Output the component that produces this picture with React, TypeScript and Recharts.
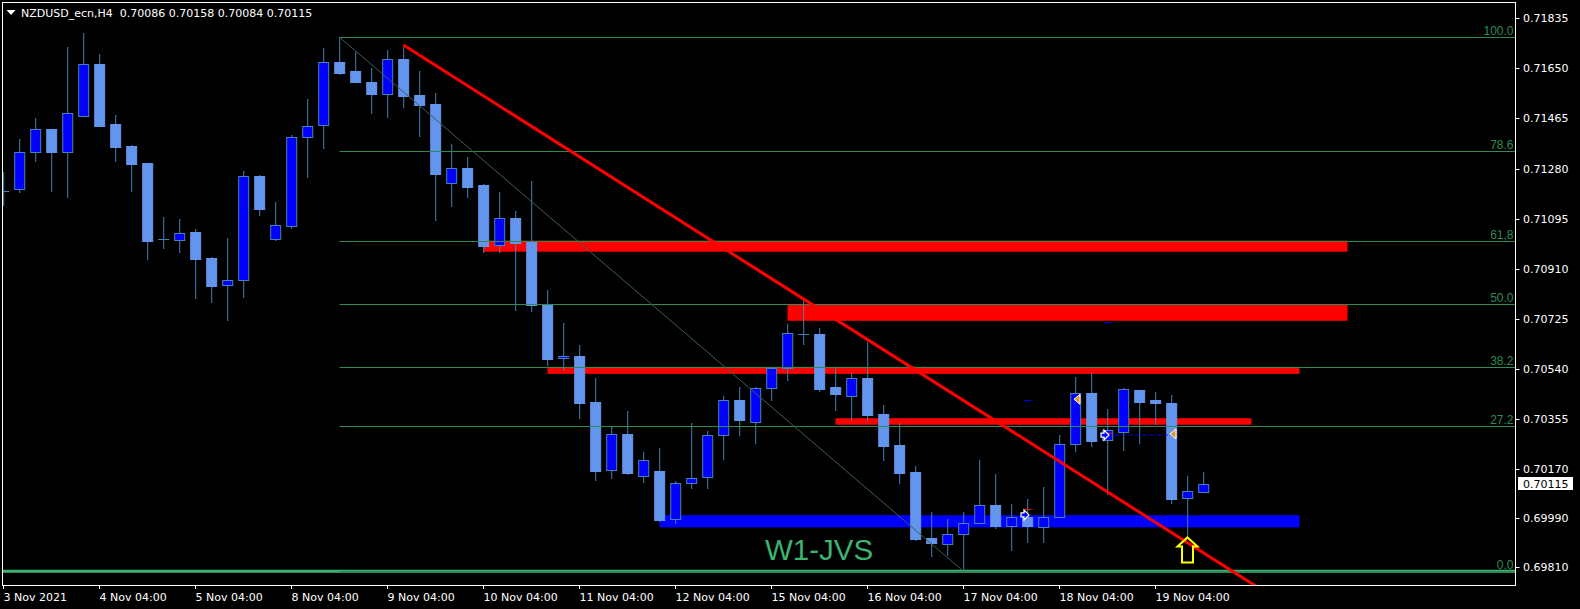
// @ts-nocheck
import React from "react";
import { ComposedChart, Bar, XAxis, YAxis, ReferenceLine, ReferenceArea, ReferenceDot } from "recharts";

// NZDUSD_ecn H4, one entry per bar (3 Nov 04:00 .. 19 Nov 16:00)
const opens = [
  0.71198, 0.71203, 0.71340, 0.71425, 0.71342, 0.71473, 0.71666, 0.71445, 0.71363, 0.71301,
  0.71019, 0.71015, 0.71046, 0.70951, 0.70849, 0.70867, 0.71253, 0.71021, 0.71069, 0.71395,
  0.71440, 0.71673, 0.71640, 0.71599, 0.71556, 0.71683, 0.71551, 0.71517, 0.71226, 0.71281,
  0.71219, 0.70997, 0.71096, 0.71009, 0.70775, 0.70579, 0.70588, 0.70418, 0.70166, 0.70299,
  0.70144, 0.70163, 0.69985, 0.70118, 0.70140, 0.70295, 0.70424, 0.70343, 0.70469, 0.70542,
  0.70670, 0.70669, 0.70473, 0.70441, 0.70507, 0.70374, 0.70259, 0.70160, 0.69916, 0.69893,
  0.69930, 0.69970, 0.70037, 0.69961, 0.69993, 0.69958, 0.69992, 0.70262, 0.70450, 0.70277,
  0.70308, 0.70462, 0.70424, 0.70414, 0.70062, 0.70086,
];
const highs = [
  0.71267, 0.71389, 0.71467, 0.71426, 0.71729, 0.71781, 0.71703, 0.71478, 0.71367, 0.71302,
  0.71101, 0.71094, 0.71056, 0.70953, 0.71024, 0.71271, 0.71257, 0.71157, 0.71404, 0.71537,
  0.71724, 0.71765, 0.71712, 0.71651, 0.71718, 0.71730, 0.71640, 0.71558, 0.71371, 0.71323,
  0.71224, 0.71193, 0.71123, 0.71234, 0.70832, 0.70710, 0.70628, 0.70506, 0.70329, 0.70385,
  0.70233, 0.70248, 0.70126, 0.70340, 0.70311, 0.70440, 0.70473, 0.70472, 0.70548, 0.70706,
  0.70791, 0.70690, 0.70546, 0.70525, 0.70640, 0.70407, 0.70340, 0.70182, 0.70011, 0.69986,
  0.70011, 0.70204, 0.70152, 0.70041, 0.70060, 0.70104, 0.70295, 0.70510, 0.70524, 0.70391,
  0.70471, 0.70463, 0.70454, 0.70444, 0.70145, 0.70158,
];
const lows = [
  0.71143, 0.71191, 0.71304, 0.71195, 0.71172, 0.71472, 0.71437, 0.71305, 0.71195, 0.70943,
  0.70983, 0.70969, 0.70799, 0.70785, 0.70718, 0.70803, 0.71106, 0.71014, 0.71058, 0.71246,
  0.71353, 0.71627, 0.71597, 0.71482, 0.71468, 0.71505, 0.71398, 0.71087, 0.71139, 0.71172,
  0.70969, 0.70969, 0.70755, 0.70751, 0.70551, 0.70534, 0.70356, 0.70127, 0.70133, 0.70150,
  0.70120, 0.69976, 0.69966, 0.70098, 0.70098, 0.70205, 0.70294, 0.70264, 0.70423, 0.70496,
  0.70630, 0.70456, 0.70386, 0.70349, 0.70349, 0.70201, 0.70116, 0.69906, 0.69847, 0.69849,
  0.69793, 0.69969, 0.69948, 0.69869, 0.69898, 0.69898, 0.69991, 0.70233, 0.70253, 0.70076,
  0.70238, 0.70263, 0.70333, 0.70041, 0.69921, 0.70084,
];
const closes = [
  0.71198, 0.71340, 0.71425, 0.71342, 0.71484, 0.71665, 0.71438, 0.71361, 0.71298, 0.71014,
  0.71019, 0.71041, 0.70947, 0.70847, 0.70867, 0.71251, 0.71132, 0.71070, 0.71395, 0.71438,
  0.71672, 0.71634, 0.71601, 0.71556, 0.71683, 0.71549, 0.71516, 0.71261, 0.71281, 0.71213,
  0.70995, 0.71096, 0.71006, 0.70775, 0.70578, 0.70588, 0.70415, 0.70164, 0.70299, 0.70157,
  0.70203, 0.69983, 0.70118, 0.70136, 0.70295, 0.70424, 0.70353, 0.70469, 0.70542, 0.70672,
  0.70669, 0.70467, 0.70449, 0.70507, 0.70371, 0.70257, 0.70157, 0.69913, 0.69898, 0.69930,
  0.69970, 0.70037, 0.69960, 0.69993, 0.69961, 0.69993, 0.70262, 0.70450, 0.70274, 0.70315,
  0.70465, 0.70419, 0.70415, 0.70061, 0.70088, 0.70115,
];

const dateIdx = [0, 6, 12, 18, 24, 30, 36, 42, 48, 54, 60, 66, 72];
const dateLabels = [
  "3 Nov 2021", "4 Nov 04:00", "5 Nov 04:00", "8 Nov 04:00", "9 Nov 04:00", "10 Nov 04:00",
  "11 Nov 04:00", "12 Nov 04:00", "15 Nov 04:00", "16 Nov 04:00", "17 Nov 04:00",
  "18 Nov 04:00", "19 Nov 04:00",
];
const priceTicks = [0.71835, 0.7165, 0.71465, 0.7128, 0.71095, 0.7091, 0.70725, 0.7054, 0.70355, 0.7017, 0.6999, 0.6981];

// fibonacci retracement from bar 21 high to bar 60 low
const fibFrom = 21;
const fibTo = 60;
const fibHigh = 0.71765;
const fibLow = 0.69793;
const fibLevels = [100, 78.6, 61.8, 50, 38.2, 27.2, 0];
const fibTexts = ["100.0", "78.6", "61,8", "50.0", "38.2", "27.2", "0.0"];

// supply / demand boxes
const zoneFrom = [30, 49, 34, 52, 41];
const zoneTo = [84, 84, 81, 78, 81];
const zoneTop = [0.71014, 0.70780, 0.70548, 0.70358, 0.70000];
const zoneBottom = [0.70973, 0.70718, 0.70522, 0.70334, 0.69955];
const zoneColor = ["#ff0000", "#ff0000", "#ff0000", "#ff0000", "#0000ff"];

// red trend line
const trendFrom = [25, 0.71736];
const trendTo = [79, 0.69711];

// trade markers
const orderMarks = [[67, 0.70428], [73, 0.70300]];
const arrowMarks = [[64, 0.70001], [69, 0.70296]];
const redTicks = [[64, 0.70023], [69, 0.70304]];
const blueTicks = [[64, 0.70425], [69, 0.70713]];
const dashFrom = 69;
const dashTo = 73;
const dashPrice = 0.70296;
const signalBar = 74;
const signalPrice = 0.69918;
const textBar = 48;
const textPrice = 0.69836;

const SLOTS = 95;
const W = 1580;
const H = 609;
const FONT = "'DejaVu Sans', Verdana, sans-serif";
const BULL = "#0000ff";
const BEAR = "#6495ed";
const WICK = "#4682b4";

const rows = Array.from({ length: SLOTS }, (_, t) =>
  t < opens.length
    ? { t, o: opens[t], h: highs[t], l: lows[t], c: closes[t], range: [lows[t], highs[t]] }
    : { t, range: null }
);
const last = opens.length - 1;
const title = `NZDUSD_ecn,H4  ${opens[last].toFixed(5)} ${highs[last].toFixed(5)} ${lows[last].toFixed(5)} ${closes[last].toFixed(5)}`;

function Candle(props: any) {
  const { x, y, width, height, payload } = props;
  if (!payload || payload.o == null) return null;
  const { o, h, l, c } = payload;
  const top = Math.min(y, y + height);
  const k = Math.abs(height) / (h - l);
  const py = (p: number) => top + (h - p) * k;
  const cx = x + width / 2;
  const bTop = Math.round(Math.min(py(o), py(c)));
  const bBot = Math.round(Math.max(py(o), py(c)));
  const up = c > o;
  const wick = <line x1={cx} x2={cx} y1={Math.round(py(h))} y2={Math.round(py(l))} stroke={WICK} />;
  if (bBot - bTop < 1) {
    return (
      <g>
        {wick}
        <line x1={cx - 5.5} x2={cx + 5.5} y1={bTop + 0.5} y2={bTop + 0.5} stroke={WICK} />
      </g>
    );
  }
  return (
    <g>
      {wick}
      <rect x={cx - 5} y={bTop + 0.5} width={10} height={bBot - bTop} fill={up ? BULL : BEAR} stroke={up ? WICK : BEAR} />
    </g>
  );
}

const zoneShape = (span: number) => (p: any) => {
  const band = p.width / (span + 1);
  return <rect x={p.x + band / 2} y={p.y} width={p.width - band} height={p.height} fill={p.fill} />;
};

const fibShape = (text: string) => (p: any) => {
  const band = (p.x2 - p.x1) / (SLOTS - 1 - fibFrom);
  const xe = p.x2 + band / 2;
  const yy = Math.round(p.y1) + 0.5;
  return (
    <g>
      <line x1={p.x1} y1={yy} x2={xe} y2={yy} stroke="#2e8b57" strokeWidth={1} />
      <text x={xe - 2} y={yy - 2.5} textAnchor="end" fill="#2e8b57" fontSize={12} fontFamily="'Liberation Sans', Arial, sans-serif">
        {text}
      </text>
    </g>
  );
};

function PriceTick({ x, y, payload }: any) {
  const yy = Math.round(y) + 0.5;
  return (
    <g>
      <line x1={x} x2={x + 4} y1={yy} y2={yy} stroke="#fff" />
      <text x={x + 7.5} y={y + 4} fill="#fff" fontSize={11} fontFamily={FONT}>
        {payload.value.toFixed(5)}
      </text>
    </g>
  );
}

function DateTick({ x, y, payload }: any) {
  const k = dateIdx.indexOf(payload.value);
  if (k < 0) return null;
  return (
    <g>
      <line x1={x} x2={x} y1={y} y2={y + 4} stroke="#fff" />
      <text x={x} y={y + 16} fill="#fff" fontSize={11} fontFamily={FONT}>
        {dateLabels[k]}
      </text>
    </g>
  );
}

const orderShape = ({ cx, cy }: any) => (
  <polygon points={`${cx - 1.5},${cy} ${cx + 4.5},${cy - 5} ${cx + 4.5},${cy + 5}`} fill="#d99a2b" stroke="#fff" strokeWidth={1} />
);
const arrowShape = ({ cx, cy }: any) => {
  const a = cx - 6.5;
  return (
    <polygon
      points={`${a},${cy - 2} ${a + 3},${cy - 2} ${a + 3},${cy - 5} ${a + 8},${cy} ${a + 3},${cy + 5} ${a + 3},${cy + 2} ${a},${cy + 2}`}
      fill="#0000ff"
      stroke="#fff"
      strokeWidth={1.2}
    />
  );
};
const tickShape = (color: string) => ({ cx, cy }: any) => (
  <line x1={cx - 3} x2={cx + 4} y1={Math.round(cy) + 0.5} y2={Math.round(cy) + 0.5} stroke={color} />
);
const signalShape = ({ cx, cy }: any) => (
  <polygon
    points={`${cx},${cy} ${cx + 10},${cy + 9} ${cx + 5.5},${cy + 9} ${cx + 5.5},${cy + 25} ${cx - 5.5},${cy + 25} ${cx - 5.5},${cy + 9} ${cx - 10},${cy + 9}`}
    fill="none"
    stroke="#ffff00"
    strokeWidth={2}
  />
);
const textShape = ({ cx, cy }: any) => (
  <text x={cx - 6.5} y={cy} fill="#3cb371" fontSize={29.5} fontFamily="'Liberation Sans', Arial, sans-serif">
    W1-JVS
  </text>
);
const lastPriceShape = ({ cx, cy }: any) => {
  const bx = cx + 10.5;
  const by = Math.round(cy) - 7;
  return (
    <g>
      <rect x={bx} y={by} width={55} height={13} fill="#fff" />
      <text x={bx + 5} y={cy + 4} fill="#000" fontSize={11} fontFamily={FONT}>
        {closes[last].toFixed(5)}
      </text>
    </g>
  );
};

export default function App() {
  return (
    <div style={{ position: "fixed", left: 0, top: 0, width: W, height: H, background: "#000", overflow: "hidden" }}>
      <ComposedChart width={W} height={H} data={rows} margin={{ top: 2, right: 0, bottom: 0, left: -4.5 }} barCategoryGap={0}>
        <XAxis dataKey="t" type="category" interval={0} height={24} tickSize={0} tickMargin={0} axisLine={false} tickLine={false} tick={DateTick} />
        <YAxis
          orientation="right"
          type="number"
          width={64.5}
          domain={[0.697423, 0.71895]}
          allowDataOverflow
          ticks={priceTicks}
          tickSize={0}
          tickMargin={0}
          axisLine={false}
          tickLine={false}
          tick={PriceTick}
        />
        {zoneFrom.map((f, k) => (
          <ReferenceArea
            key={"z" + k}
            x1={f}
            x2={zoneTo[k]}
            y1={zoneBottom[k]}
            y2={zoneTop[k]}
            fill={zoneColor[k]}
            fillOpacity={1}
            stroke="none"
            shape={zoneShape(zoneTo[k] - f)}
          />
        ))}
        <Bar dataKey="range" barSize={16} shape={Candle} isAnimationActive={false} />
        <ReferenceLine y={fibLow} stroke="#3cb371" strokeWidth={3} />
        {fibLevels.map((lv, k) => {
          const p = fibLow + ((fibHigh - fibLow) * lv) / 100;
          return (
            <ReferenceLine
              key={"f" + k}
              segment={[{ x: fibFrom, y: p }, { x: SLOTS - 1, y: p }]}
              stroke="#2e8b57"
              shape={fibShape(fibTexts[k])}
            />
          );
        })}
        <ReferenceLine segment={[{ x: fibFrom, y: fibHigh }, { x: fibTo, y: fibLow }]} stroke="#3d5f52" strokeWidth={1} />
        <ReferenceLine
          segment={[{ x: trendFrom[0], y: trendFrom[1] }, { x: trendTo[0], y: trendTo[1] }]}
          stroke="#ff0000"
          strokeWidth={3}
          ifOverflow="hidden"
        />
        <ReferenceLine segment={[{ x: dashFrom, y: dashPrice }, { x: dashTo, y: dashPrice }]} stroke="#0000ff" strokeDasharray="4 3" />
        {blueTicks.map(([i, p], k) => (
          <ReferenceDot key={"b" + k} x={i} y={p} shape={tickShape("#0000ff")} />
        ))}
        {redTicks.map(([i, p], k) => (
          <ReferenceDot key={"r" + k} x={i} y={p} shape={tickShape("#ff0000")} />
        ))}
        {arrowMarks.map(([i, p], k) => (
          <ReferenceDot key={"a" + k} x={i} y={p} shape={arrowShape} />
        ))}
        {orderMarks.map(([i, p], k) => (
          <ReferenceDot key={"o" + k} x={i} y={p} shape={orderShape} />
        ))}
        <ReferenceDot x={signalBar} y={signalPrice} shape={signalShape} />
        <ReferenceDot x={textBar} y={textPrice} shape={textShape} />
        <ReferenceDot x={SLOTS - 1} y={closes[last]} shape={lastPriceShape} />
      </ComposedChart>
      <svg width={W} height={H} style={{ position: "absolute", left: 0, top: 0, pointerEvents: "none" }}>
        <rect x={0} y={0} width={2.5} height={586} fill="#000" />
        <rect x={2.5} y={2.5} width={1513} height={583} fill="none" stroke="#fff" strokeWidth={1} />
        <polygon points="6.5,10 15.5,10 11,15" fill="#fff" />
        <text x={21} y={16.5} fill="#fff" fontSize={11} fontFamily={FONT} style={{ whiteSpace: "pre" }}>
          {title}
        </text>
      </svg>
    </div>
  );
}
